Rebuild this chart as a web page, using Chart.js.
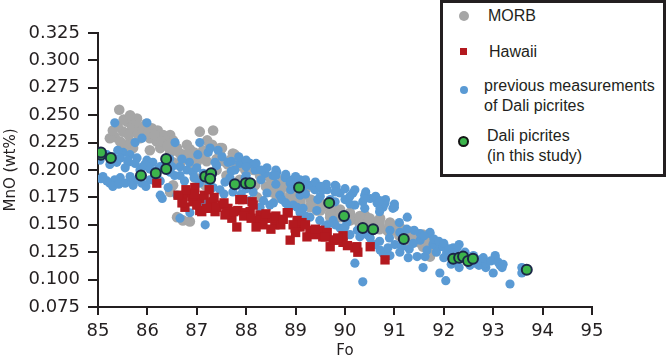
<!DOCTYPE html>
<html>
<head>
<meta charset="utf-8">
<script src="https://cdn.jsdelivr.net/npm/chart.js@4.4.1/dist/chart.umd.min.js"></script>
<style>
  body { margin: 0; background: #fff; }
  #wrap { position: relative; width: 667px; height: 362px; overflow: hidden; }
  #legendBox {
    position: absolute; left: 440px; top: 0px; width: 220px; height: 171px;
    border: 3px solid #231f20; background: #fff;
    font-family: "Liberation Sans", Arial, sans-serif; font-size: 16px; color: #231f20;
  }
  .lg { position: absolute; line-height: 20px; white-space: nowrap; }
  .mk { position: absolute; }
</style>
</head>
<body>
<div id="wrap">
  <canvas id="olivineChart" width="667" height="362"></canvas>
  <div id="legendBox">
    <div class="mk" style="left:16px;top:8px;width:10px;height:10px;border-radius:50%;background:#a6a6a6"></div>
    <div class="lg" style="left:45px;top:3px">MORB</div>
    <div class="mk" style="left:17px;top:45px;width:7px;height:7px;background:#b3191f"></div>
    <div class="lg" style="left:46px;top:39px">Hawaii</div>
    <div class="mk" style="left:17px;top:83px;width:8px;height:8px;border-radius:50%;background:#5a9ad4"></div>
    <div class="lg" style="left:41px;top:73px">previous measurements<br>of Dali picrites</div>
    <div class="mk" style="left:15px;top:133px;width:7px;height:7px;border-radius:50%;background:#3cb44b;border:2px solid #141414"></div>
    <div class="lg" style="left:44px;top:123px">Dali picrites<br>(in this study)</div>
  </div>
</div>
<script>
const ctx = document.getElementById('olivineChart').getContext('2d');

// [Fo, MnO wt%]
const morb = [
  [85.43,0.255],[85.59,0.244],[85.79,0.247],[85.71,0.241],[85.34,0.230],[85.51,0.235],[85.69,0.238],
  [85.85,0.239],[85.97,0.242],[86.09,0.238],[86.21,0.236],[86.32,0.232],[86.46,0.232],[86.19,0.226],
  [86.05,0.229],[85.85,0.229],[85.65,0.226],[85.45,0.226],[85.24,0.229],[86.60,0.220],[86.46,0.216],
  [86.26,0.220],[86.72,0.214],[86.86,0.211],[87.00,0.207],[86.05,0.218],[85.71,0.220],[86.52,0.207],
  [86.66,0.205],[86.52,0.227],[86.66,0.215],[86.80,0.223],[87.06,0.235],[87.33,0.236],[87.21,0.227],
  [87.27,0.223],[87.51,0.220],[87.31,0.223],[87.73,0.215],[87.47,0.215],[87.00,0.214],[86.36,0.227],
  [85.95,0.234],[85.55,0.221],[86.86,0.219],[87.13,0.218],[87.63,0.205],[87.81,0.203],[87.98,0.200],
  [88.28,0.195],[88.48,0.193],[88.74,0.191],[88.99,0.186],[89.23,0.184],[89.09,0.173],[88.62,0.175],
  [88.22,0.175],[89.29,0.166],[89.43,0.163],[89.70,0.157],[89.90,0.162],[90.10,0.157],[90.30,0.154],
  [90.65,0.153],[90.91,0.152],[91.05,0.145],[91.32,0.142],[91.52,0.139],[90.85,0.145],[90.51,0.145],
  [91.58,0.141],[91.72,0.132],[91.11,0.148],[91.38,0.136],[91.58,0.130],[91.26,0.134],[91.72,0.121],
  [89.49,0.168],[89.80,0.163],[90.40,0.159],[90.71,0.156],[88.18,0.186],[87.87,0.191],[86.60,0.157],
  [86.72,0.154],[86.86,0.153],[86.52,0.186],[86.46,0.180],[86.96,0.193],[87.17,0.186],[87.77,0.214],
  [87.47,0.220],[85.30,0.236],[85.40,0.240],[85.52,0.246],[85.65,0.250],[85.62,0.232],[85.80,0.233],
  [85.90,0.236],[86.00,0.233],[86.15,0.232],[86.28,0.226],[86.40,0.222],[86.55,0.218],[86.70,0.210],
  [86.90,0.206],[86.95,0.216],[87.10,0.212],[87.20,0.208],[87.40,0.210],[87.55,0.208],[87.70,0.210],
  [87.90,0.208],[88.00,0.204],[88.15,0.200],[88.35,0.198],[88.55,0.188],[88.80,0.185],[89.00,0.180],
  [89.15,0.178],[89.35,0.172],[89.55,0.166],[89.75,0.163],[89.95,0.158],[90.20,0.155],[90.45,0.152],
  [90.70,0.149],[90.95,0.147],[91.15,0.141],[91.40,0.138],[91.65,0.134],[91.80,0.128],[88.40,0.185],
  [88.60,0.182],[88.90,0.178],[88.00,0.190],[87.60,0.195],[87.40,0.200],
  [88.50,0.186],[88.50,0.180],[88.70,0.183],[88.70,0.177],[88.90,0.180],[88.90,0.174],[89.10,0.176],
  [89.10,0.170],[89.30,0.173],[89.30,0.167],[89.50,0.170],[89.50,0.163],[89.70,0.167],[89.70,0.160],
  [89.90,0.164],[89.90,0.157],[90.10,0.161],[90.10,0.154],[90.30,0.158],[90.30,0.151],[90.50,0.156],
  [90.50,0.149],[90.70,0.153],[90.70,0.146],[90.90,0.150],[90.90,0.143],[91.10,0.146],[91.10,0.140],
  [91.30,0.144],[91.30,0.137],[91.50,0.141],[91.50,0.134],[91.70,0.137],[91.70,0.130]
];

const hawaii = [
  [86.19,0.188],[86.72,0.174],[86.82,0.179],[86.76,0.166],[86.96,0.184],[87.06,0.174],[87.10,0.162],
  [87.15,0.177],[86.92,0.171],[87.33,0.171],[87.51,0.168],[87.27,0.170],[87.06,0.163],[87.63,0.165],
  [87.87,0.173],[88.12,0.171],[87.81,0.148],[88.08,0.162],[88.28,0.159],[88.48,0.157],[88.28,0.152],
  [88.68,0.153],[88.85,0.161],[88.89,0.136],[89.09,0.148],[89.29,0.145],[89.23,0.139],[87.83,0.163],
  [87.98,0.161],[88.22,0.154],[89.13,0.152],[89.49,0.145],[89.64,0.143],[89.70,0.130],[89.96,0.134],
  [90.24,0.130],[90.51,0.130],[90.26,0.125],[90.81,0.118],[89.55,0.139],[89.76,0.136],[89.96,0.140],
  [89.39,0.141],[88.99,0.147],[88.58,0.150],[88.38,0.156],[87.71,0.156],[87.57,0.159],[87.37,0.162],
  [88.53,0.156],[89.03,0.154],[88.70,0.150],[88.34,0.150],[87.93,0.173],[88.14,0.168],[88.83,0.161],
  [89.80,0.136],[90.20,0.129],[86.90,0.176],[87.00,0.168],[87.20,0.165],[87.40,0.166],[87.60,0.160],
  [87.75,0.162],[87.95,0.158],[88.10,0.156],[88.40,0.160],[88.60,0.158],[88.75,0.155],[88.95,0.150],
  [89.20,0.150],[89.40,0.146],[89.60,0.139],[89.85,0.138],[90.05,0.131],[88.50,0.146],[88.20,0.148],
  [89.00,0.143],[87.55,0.170],[87.35,0.175],[86.95,0.178],[86.70,0.170],[86.78,0.182],[86.62,0.177],
  [87.25,0.182]
];

const daliPrev = [
  [85.34,0.243],[85.99,0.243],[85.75,0.225],[85.89,0.229],[87.06,0.225],[86.56,0.225],[87.02,0.214],
  [85.51,0.216],[85.65,0.214],[85.79,0.211],[85.99,0.209],[86.11,0.207],[86.26,0.203],[85.40,0.218],
  [85.18,0.214],[85.38,0.207],[85.61,0.207],[85.91,0.203],[86.66,0.203],[86.80,0.200],[86.92,0.198],
  [86.66,0.195],[86.46,0.198],[86.36,0.205],[85.85,0.200],[85.55,0.202],[85.24,0.205],[85.04,0.209],
  [85.10,0.194],[85.24,0.188],[85.45,0.193],[85.55,0.188],[85.69,0.189],[85.71,0.186],[85.89,0.188],
  [86.05,0.191],[85.65,0.194],[85.34,0.191],[86.26,0.190],[86.26,0.177],[86.30,0.174],[86.60,0.177],
  [86.66,0.156],[86.86,0.161],[87.10,0.171],[87.17,0.150],[86.42,0.184],[87.23,0.216],[87.51,0.212],
  [87.63,0.207],[88.08,0.206],[88.38,0.197],[88.54,0.195],[88.93,0.191],[89.29,0.186],[87.47,0.182],
  [87.73,0.180],[88.14,0.180],[88.42,0.179],[88.68,0.177],[88.28,0.166],[88.48,0.168],[88.95,0.168],
  [88.72,0.173],[89.09,0.161],[89.29,0.157],[88.08,0.172],[87.13,0.197],[87.33,0.184],[87.87,0.206],
  [88.62,0.198],[88.89,0.188],[89.64,0.182],[89.90,0.179],[90.16,0.179],[90.36,0.171],[90.65,0.170],
  [90.77,0.166],[90.71,0.165],[89.03,0.166],[89.43,0.163],[89.49,0.154],[90.04,0.152],[89.76,0.154],
  [90.77,0.124],[90.91,0.122],[90.20,0.115],[90.36,0.098],[91.26,0.157],[89.55,0.182],[89.96,0.145],
  [90.30,0.139],[90.71,0.127],[91.52,0.136],[91.46,0.121],[91.58,0.111],[91.92,0.106],[92.04,0.099],
  [90.71,0.168],[90.91,0.145],[91.38,0.133],[91.72,0.142],[91.78,0.132],[91.62,0.121],[92.31,0.132],
  [92.06,0.125],[92.31,0.111],[92.71,0.113],[92.85,0.111],[93.04,0.122],[93.04,0.118],[93.00,0.106],
  [93.18,0.111],[93.34,0.096],[93.58,0.111],[93.58,0.106],[92.19,0.129],[92.53,0.118],[91.92,0.130],
  [91.66,0.127],[91.11,0.143],[92.53,0.113],[92.63,0.115],[92.83,0.116],[93.14,0.113],[92.27,0.116],
  [92.43,0.125],[87.37,0.207],[87.77,0.200],[87.98,0.193],[88.18,0.200],[88.79,0.193],[89.09,0.191],
  [89.39,0.182],[89.80,0.186],[90.00,0.173],[90.20,0.168],[90.40,0.177],[90.51,0.174],[90.81,0.170],
  [90.97,0.165],[89.70,0.173],[89.45,0.173],[89.09,0.177],[87.67,0.193],[87.87,0.186],[87.57,0.189],
  [89.64,0.150],[89.90,0.147],[90.10,0.141],[90.51,0.138],[90.61,0.132],[91.01,0.132],[91.11,0.125],
  [91.28,0.120],[90.87,0.129],[91.72,0.143],[91.52,0.142],[91.98,0.130],[92.27,0.129],[92.73,0.118],
  [93.04,0.120],[92.85,0.115],
  [87.27,0.220],[87.43,0.218],[87.85,0.212],[88.00,0.209],[88.20,0.206],[88.42,0.202],[88.60,0.200],
  [88.80,0.196],[89.00,0.194],[89.20,0.191],[89.40,0.189],[89.62,0.187],[89.82,0.185],[90.00,0.183],
  [90.20,0.182],[90.42,0.180],[90.62,0.176],[90.82,0.173],[91.00,0.169],
  [87.40,0.204],[87.70,0.208],[87.70,0.199],[88.00,0.203],[88.00,0.195],[88.30,0.200],[88.30,0.191],
  [88.60,0.195],[88.60,0.187],[88.90,0.189],[88.90,0.182],[89.20,0.186],[89.20,0.178],[89.50,0.185],
  [89.50,0.176],[89.80,0.180],[89.80,0.171],[90.10,0.176],[90.10,0.169],[90.40,0.174],[90.40,0.165],
  [90.70,0.172],[90.70,0.162],[91.00,0.166],
  [87.55,0.178],[87.90,0.178],[88.00,0.183],[88.35,0.172],[88.55,0.170],[88.80,0.170],[88.85,0.164],
  [89.15,0.165],[89.20,0.158],[89.60,0.148],[89.80,0.150],[90.00,0.148],[90.25,0.145],[90.45,0.141],
  [90.70,0.135],[90.90,0.138],[91.15,0.130],[91.30,0.128],
  [85.18,0.190],[85.30,0.185],[85.42,0.187],[85.80,0.191],[85.97,0.185],[86.15,0.190],[85.06,0.192],
  [85.30,0.212],[85.45,0.211],[85.60,0.209],[85.75,0.206],[85.95,0.205],[86.05,0.201],[86.20,0.200],
  [86.50,0.203],[86.55,0.195],[86.75,0.190],[86.95,0.193],[87.05,0.188],[87.25,0.187],[87.00,0.202],
  [86.85,0.207],[86.70,0.210],[86.45,0.210],
  [91.40,0.145],[91.60,0.140],[91.80,0.137],[91.90,0.135],[92.00,0.133],[92.10,0.128],[92.20,0.124],
  [92.40,0.122],[92.60,0.122],[92.80,0.120],[92.95,0.117],[93.10,0.116],[93.20,0.114],[92.00,0.120],
  [91.85,0.125],[92.15,0.114],[91.10,0.152],[91.25,0.146]
];

const daliNew = [
  [85.06,0.214],[85.06,0.216],[85.26,0.211],[85.87,0.195],[86.17,0.197],[86.38,0.210],[86.38,0.201],
  [87.17,0.194],[87.29,0.197],[87.27,0.192],[87.77,0.187],[87.99,0.188],[88.08,0.188],[89.07,0.184],
  [89.68,0.170],[89.98,0.158],[90.36,0.147],[90.57,0.146],[91.19,0.137],[92.19,0.119],[92.31,0.120],
  [92.39,0.121],[92.49,0.117],[92.59,0.119],[93.68,0.109]
];

const xTicks = [85, 86, 87, 88, 89, 90, 91, 92, 93, 94, 95];
const yTicks = [0.075, 0.100, 0.125, 0.150, 0.175, 0.200, 0.225, 0.250, 0.275, 0.300, 0.325];

const toPts = arr => arr.map(p => ({ x: p[0], y: p[1] }));
const axisColor = '#231f20';
const tickFont = { family: 'DejaVu Sans', size: 18 };

new Chart(ctx, {
  type: 'scatter',
  data: {
    datasets: [
      { label: 'Dali picrites (in this study)', data: toPts(daliNew),
        backgroundColor: '#3cb44b', borderColor: '#1b2747', borderWidth: 2, pointRadius: 5 },
      { label: 'Hawaii', data: toPts(hawaii), pointStyle: 'rect',
        backgroundColor: '#b3191f', borderWidth: 0, pointRadius: 6.6 },
      { label: 'previous measurements of Dali picrites', data: toPts(daliPrev),
        backgroundColor: '#5a9ad4', borderWidth: 0, pointRadius: 4.6 },
      { label: 'MORB', data: toPts(morb),
        backgroundColor: '#a6a6a6', borderWidth: 0, pointRadius: 5.3 }
    ]
  },
  options: {
    responsive: false,
    animation: false,
    layout: { padding: { top: 33, right: 75, bottom: 0, left: 0 } },
    plugins: { legend: { display: false }, tooltip: { enabled: false } },
    scales: {
      x: {
        type: 'linear', min: 85, max: 95,
        afterBuildTicks: s => { s.ticks = xTicks.map(v => ({ value: v })); },
        afterFit: s => { s.height = 55; },
        ticks: { color: axisColor, font: tickFont, padding: 6, maxRotation: 0 },
        grid: { drawOnChartArea: false, drawTicks: true, tickLength: 8, color: axisColor, lineWidth: 2 },
        border: { display: true, color: axisColor, width: 2 },
        title: { display: true, text: 'Fo', color: axisColor,
          font: { family: 'DejaVu Sans', size: 15 }, padding: { top: 0, bottom: 2 } }
      },
      y: {
        type: 'linear', min: 0.075, max: 0.325,
        afterBuildTicks: s => { s.ticks = yTicks.map(v => ({ value: v })); },
        afterFit: s => { s.width = 98; },
        ticks: { color: axisColor, font: tickFont, padding: 8, callback: v => v.toFixed(3) },
        grid: { drawOnChartArea: false, drawTicks: true, tickLength: 10, color: axisColor, lineWidth: 2 },
        border: { display: true, color: axisColor, width: 2 },
        title: { display: true, text: 'MnO (wt%)', color: axisColor,
          font: { family: 'DejaVu Sans', size: 15 }, padding: { top: 2, bottom: 0 } }
      }
    }
  }
});
</script>
</body>
</html>
